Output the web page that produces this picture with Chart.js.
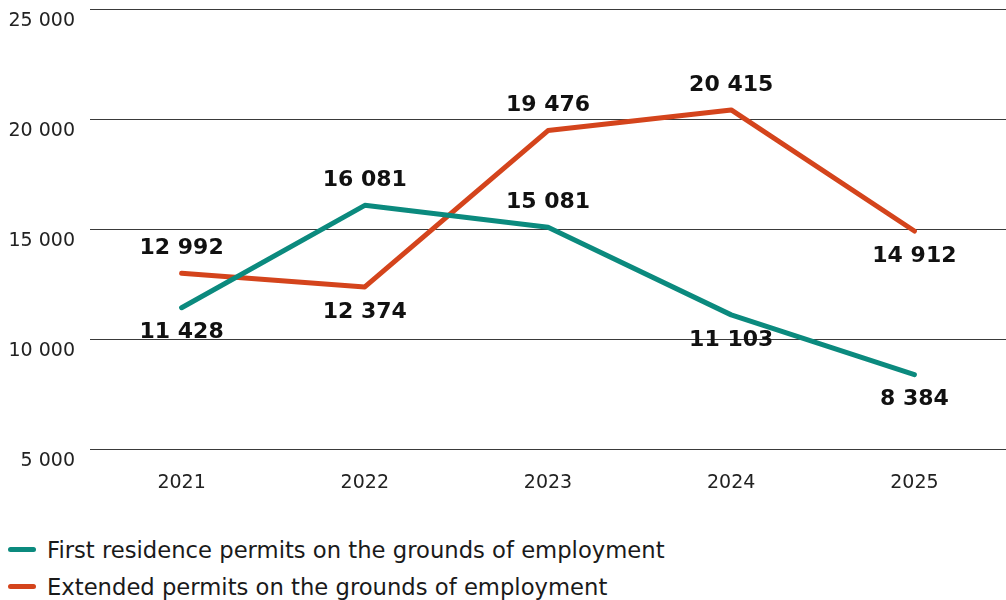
<!DOCTYPE html>
<html>
<head>
<meta charset="utf-8">
<script src="https://cdn.jsdelivr.net/npm/chart.js@4/dist/chart.umd.min.js"></script>
<style>
  body { margin: 0; background: #fff; font-family: "DejaVu Sans", Verdana, sans-serif; }
  #wrap { position: relative; width: 1006px; height: 516px; }
  #legend { position: absolute; left: 8px; top: 531px; }
  .item { display: flex; align-items: center; height: 37px; font-size: 22.7px; color: #1a1a1a; }
  .swatch { width: 28px; height: 5px; border-radius: 3px; margin-right: 11px; }
</style>
</head>
<body>
<div id="wrap"><canvas id="chart"></canvas></div>
<div id="legend"></div>
<script>
const years = ['2021', '2022', '2023', '2024', '2025'];
const firstPermits = [11428, 16081, 15081, 11103, 8384];
const extendedPermits = [12992, 12374, 19476, 20415, 14912];
const seriesNames = [
  'First residence permits on the grounds of employment',
  'Extended permits on the grounds of employment'
];
const colors = ['#0b8a7e', '#d4441c'];
// where each value label sits relative to its point
const labelSide = [
  ['below', 'above', 'above', 'below', 'below'],
  ['above', 'below', 'above', 'above', 'below']
];

const fmt = v => String(v).replace(/\B(?=(\d{3})+(?!\d))/g, ' ');

const valueLabels = {
  id: 'valueLabels',
  afterDatasetsDraw(chart) {
    const ctx = chart.ctx;
    ctx.save();
    ctx.font = 'bold 22px "DejaVu Sans"';
    ctx.fillStyle = '#111';
    ctx.textAlign = 'center';
    ctx.textBaseline = 'middle';
    chart.data.datasets.forEach((ds, di) => {
      chart.getDatasetMeta(di).data.forEach((pt, i) => {
        const dy = labelSide[di][i] === 'above' ? -25 : 25;
        ctx.fillText(fmt(ds.data[i]), pt.x, pt.y + dy);
      });
    });
    ctx.restore();
  }
};

new Chart(document.getElementById('chart'), {
  type: 'line',
  data: {
    labels: years,
    datasets: [
      { label: seriesNames[0], data: firstPermits, borderColor: colors[0] },
      { label: seriesNames[1], data: extendedPermits, borderColor: colors[1] }
    ]
  },
  options: {
    responsive: true,
    maintainAspectRatio: false,
    animation: false,
    layout: { padding: { top: 9, left: 0, right: 0, bottom: 0 } },
    elements: {
      line: { borderWidth: 5, tension: 0, borderJoinStyle: 'round', borderCapStyle: 'round' },
      point: { radius: 0, hoverRadius: 0 }
    },
    plugins: { legend: { display: false }, tooltip: { enabled: false } },
    scales: {
      x: {
        offset: true,
        grid: { display: false, drawTicks: false },
        border: { display: false },
        ticks: { font: { family: 'DejaVu Sans', size: 19 }, color: '#222', padding: 22 }
      },
      y: {
        min: 5000,
        max: 25000,
        afterFit: s => { s.width = 90; s.paddingTop = 0; s.paddingBottom = 0; },
        grid: { color: '#3a3a3a', lineWidth: 1, drawTicks: false },
        border: { display: false },
        ticks: {
          stepSize: 5000,
          padding: 15,
          labelOffset: 12,
          font: { family: 'DejaVu Sans', size: 19 },
          color: '#222',
          callback: v => fmt(v)
        }
      }
    }
  },
  plugins: [valueLabels]
});

const legend = document.getElementById('legend');
seriesNames.forEach((name, i) => {
  const row = document.createElement('div');
  row.className = 'item';
  row.innerHTML = '<span class="swatch" style="background:' + colors[i] + '"></span><span>' + name + '</span>';
  legend.appendChild(row);
});
</script>
</body>
</html>
